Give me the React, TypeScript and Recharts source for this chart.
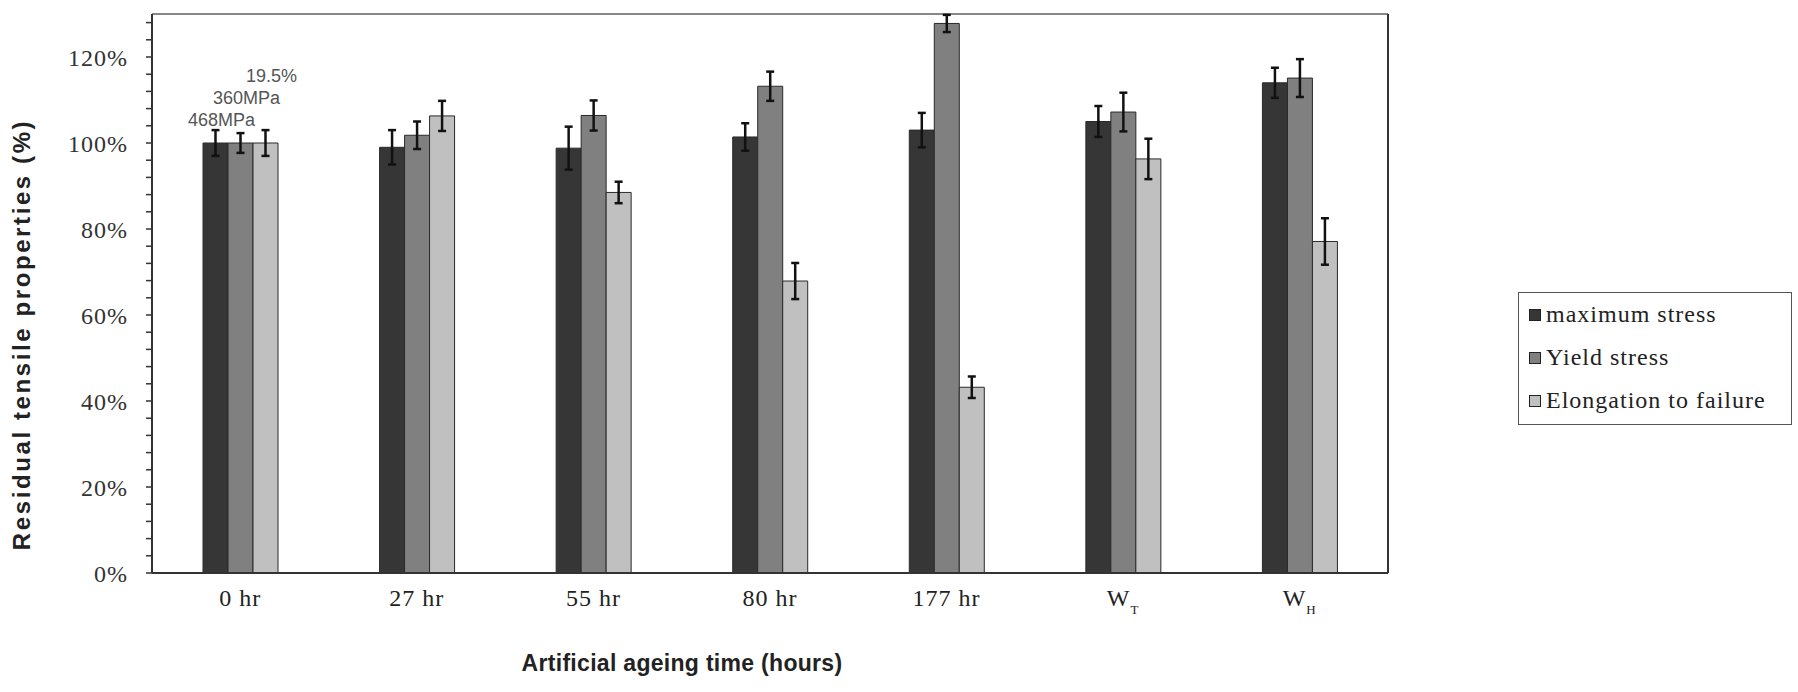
import React from "react"
import {
    Bar,
    BarChart,
    ErrorBar,
    Label,
    Legend,
    ReferenceLine,
    XAxis,
    YAxis,
} from "recharts"

// categories on the x axis ("_" marks a subscript)
const categories = ["0 hr", "27 hr", "55 hr", "80 hr", "177 hr", "W_T", "W_H"]

// residual properties in % of the as-received value
const maxStress = [100, 99, 98.8, 101.4, 103, 105, 114]
const maxStressErr = [3, 4, 5, 3.2, 4, 3.6, 3.5]
const yieldStress = [100, 101.8, 106.4, 113.2, 127.8, 107.2, 115.1]
const yieldStressErr = [2.3, 3.2, 3.5, 3.4, 2, 4.5, 4.4]
const elongation = [100, 106.3, 88.5, 67.9, 43.2, 96.3, 77.1]
const elongationErr = [3, 3.5, 2.5, 4.2, 2.5, 4.7, 5.4]

// reference values written over the 0 hr bars
const baseLabels = ["468MPa", "360MPa", "19.5%"]

const yTicks = Array.from({ length: 33 }, (_, i) => i * 4)

const data = categories.map((name, i) => ({
    name,
    maxStress: maxStress[i],
    maxStressErr: maxStressErr[i],
    yieldStress: yieldStress[i],
    yieldStressErr: yieldStressErr[i],
    elongation: elongation[i],
    elongationErr: elongationErr[i],
}))

const serif = "'Liberation Serif', 'Times New Roman', serif"
const sans = "'Liberation Sans', Arial, sans-serif"

const series = [
    { key: "maxStress", name: "maximum stress", color: "#363636" },
    { key: "yieldStress", name: "Yield stress", color: "#808080" },
    { key: "elongation", name: "Elongation to failure", color: "#c0c0c0" },
]

function CategoryTick({ x, y, payload }: any) {
    const [main, sub] = String(payload.value).split("_")
    return (
        <text
            x={x}
            y={y}
            dy={33}
            textAnchor="middle"
            fontFamily={serif}
            fontSize={24}
            letterSpacing={1}
            fill="#222"
        >
            {main}
            {sub && (
                <tspan dy={8} fontSize={13}>
                    {sub}
                </tspan>
            )}
        </text>
    )
}

const makeBaseLabel = (si: number) => (props: any) => {
    const { x, y, width, index } = props
    if (index !== 0) return null
    return (
        <text
            x={x + width / 2 + 6}
            y={y - 23 - si * 22}
            textAnchor="middle"
            dominantBaseline="central"
            fontFamily={sans}
            fontSize={18}
            fill="#555"
        >
            {baseLabels[si]}
        </text>
    )
}

function LegendBox() {
    return (
        <div
            style={{
                border: "1.5px solid #555",
                background: "#fff",
                padding: "0 0 2px 10px",
                fontFamily: serif,
                fontSize: 24,
                letterSpacing: 1,
                color: "#222",
                width: 262,
            }}
        >
            {series.map((s) => (
                <div
                    key={s.key}
                    style={{ height: 43, display: "flex", alignItems: "center" }}
                >
                    <span
                        style={{
                            display: "inline-block",
                            width: 10,
                            height: 10,
                            background: s.color,
                            border: "1px solid #222",
                            marginRight: 5,
                        }}
                    />
                    {s.name}
                </div>
            ))}
        </div>
    )
}

export default function App() {
    return (
        <div style={{ position: "absolute", left: 0, top: 0, background: "#fff" }}>
            <BarChart
                width={1798}
                height={692}
                data={data}
                margin={{ top: 14, right: 320, bottom: 0, left: 0 }}
                barSize={25}
                barGap={0}
            >
                <XAxis
                    dataKey="name"
                    height={119}
                    axisLine={{ stroke: "#333", strokeWidth: 2 }}
                    tickLine={false}
                    tickSize={0}
                    tickMargin={0}
                    interval={0}
                    tick={<CategoryTick />}
                >
                    <Label
                        content={({ viewBox }: any) => (
                            <text
                                x={viewBox.x + viewBox.width / 2 - 88}
                                y={viewBox.y + 90}
                                textAnchor="middle"
                                dominantBaseline="central"
                                fontFamily={sans}
                                fontWeight="bold"
                                fontSize={23}
                                letterSpacing={0.3}
                                fill="#222"
                            >
                                Artificial ageing time (hours)
                            </text>
                        )}
                    />
                </XAxis>
                <YAxis
                    yAxisId="left"
                    width={152}
                    domain={[0, 130]}
                    ticks={yTicks}
                    interval={0}
                    tickFormatter={(v) => (v % 20 === 0 ? `${v}%` : "")}
                    axisLine={{ stroke: "#333", strokeWidth: 2 }}
                    tickLine={{ stroke: "#333", strokeWidth: 1.5 }}
                    tickSize={6}
                    tickMargin={18}
                    tick={{ fontFamily: serif, fontSize: 24, letterSpacing: 1, fill: "#333" }}
                >
                    <Label
                        content={({ viewBox }: any) => {
                            const cx = viewBox.x + 21
                            const cy = viewBox.y + viewBox.height / 2 + 41
                            return (
                                <text
                                    x={cx}
                                    y={cy}
                                    transform={`rotate(-90 ${cx} ${cy})`}
                                    textAnchor="middle"
                                    dominantBaseline="central"
                                    fontFamily={sans}
                                    fontWeight="bold"
                                    fontSize={24}
                                    letterSpacing={2.6}
                                    fill="#222"
                                >
                                    Residual tensile properties (%)
                                </text>
                            )
                        }}
                    />
                </YAxis>
                <YAxis
                    yAxisId="right"
                    orientation="right"
                    width={90}
                    domain={[0, 130]}
                    ticks={yTicks}
                    interval={0}
                    tickFormatter={(v) => (v % 20 === 0 ? `${v}%` : "")}
                    axisLine={{ stroke: "#333", strokeWidth: 2 }}
                    tickLine={{ stroke: "#333", strokeWidth: 1.5 }}
                    tickSize={6}
                    tickMargin={13}
                    tick={{ fontFamily: serif, fontSize: 24, letterSpacing: 1, fill: "#333" }}
                />
                <ReferenceLine yAxisId="left" y={130} stroke="#888" strokeWidth={2} />
                <Legend
                    layout="horizontal"
                    verticalAlign="middle"
                    content={<LegendBox />}
                    wrapperStyle={{ left: 1518, top: 292, width: 280 }}
                />
                {series.map((s, si) => (
                    <Bar
                        key={s.key}
                        yAxisId="left"
                        dataKey={s.key}
                        name={s.name}
                        fill={s.color}
                        stroke="#2a2a2a"
                        strokeWidth={1}
                        isAnimationActive={false}
                        label={makeBaseLabel(si)}
                    >
                        <ErrorBar
                            dataKey={`${s.key}Err`}
                            direction="y"
                            width={4}
                            stroke="#111"
                            strokeWidth={2.5}
                        />
                    </Bar>
                ))}
            </BarChart>
        </div>
    )
}
